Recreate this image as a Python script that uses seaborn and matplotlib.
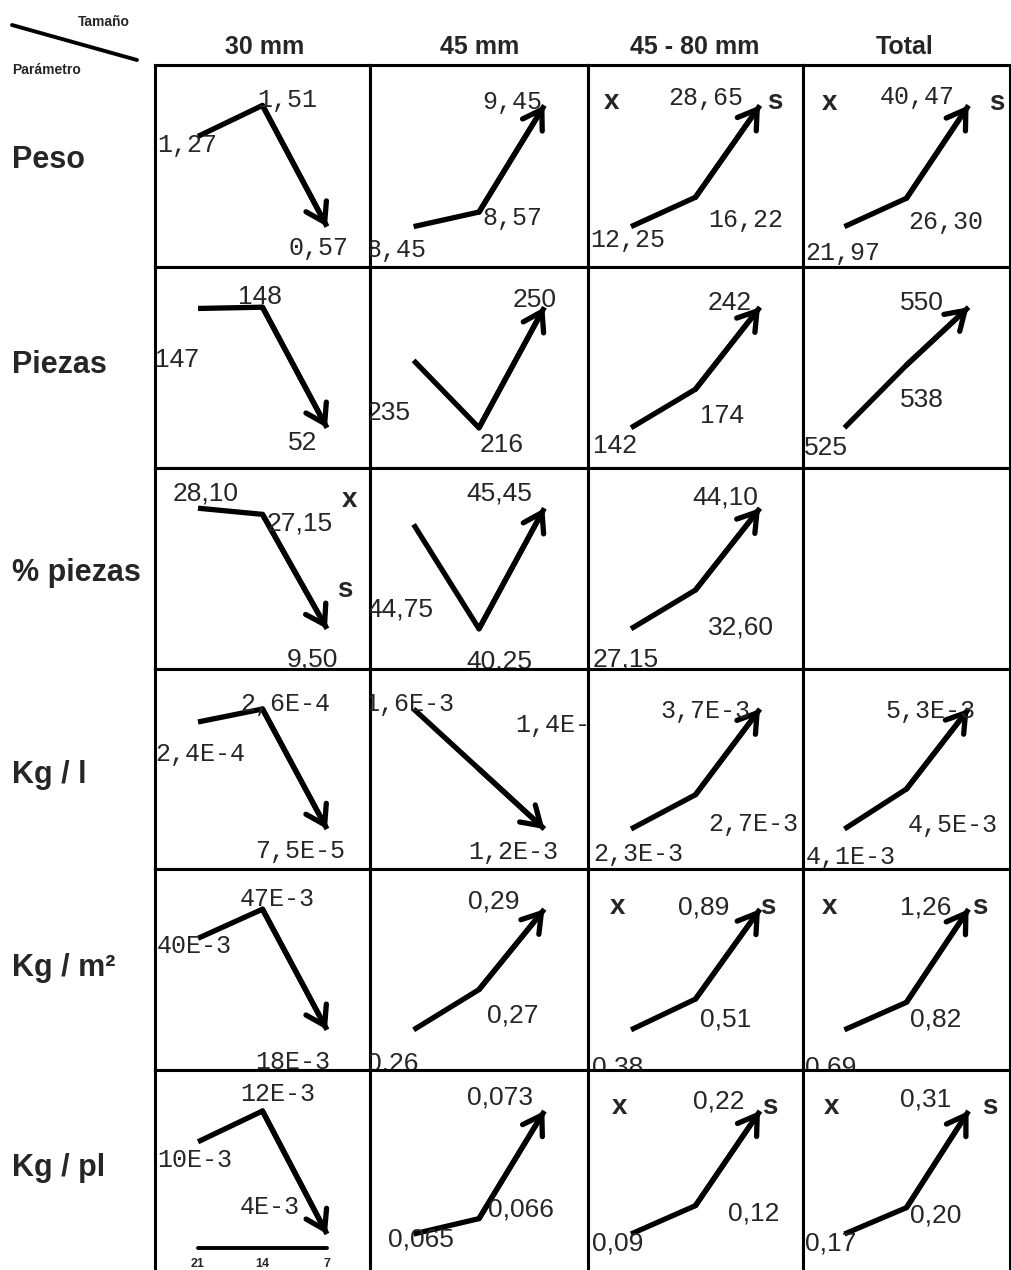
import matplotlib
matplotlib.use("Agg")
import matplotlib.pyplot as plt
from matplotlib.lines import Line2D
import pandas as pd
import seaborn as sns

sns.set_style("white")
plt.rcParams['font.family'] = ['Liberation Sans', 'DejaVu Sans']

tamanos = ["30 mm", "45 mm", "45 - 80 mm", "Total"]
parametros = ["Peso", "Piezas", "% piezas", "Kg / l", "Kg / m²", "Kg / pl"]
dias = [21, 14, 7]

# valores (3 fechas) por parametro y tamaño; None = celda vacia
peso = [[1.27, 1.51, 0.57], [8.45, 8.57, 9.45], [12.25, 16.22, 28.65], [21.97, 26.30, 40.47]]
piezas = [[147, 148, 52], [235, 216, 250], [142, 174, 242], [525, 538, 550]]
pct_piezas = [[28.10, 27.15, 9.50], [44.75, 40.25, 45.45], [27.15, 32.60, 44.10], None]
kg_l = [[2.4e-4, 2.6e-4, 7.5e-5], [1.6e-3, 1.4e-3, 1.2e-3], [2.3e-3, 2.7e-3, 3.7e-3], [4.1e-3, 4.5e-3, 5.3e-3]]
kg_m2 = [[40e-3, 47e-3, 18e-3], [0.26, 0.27, 0.29], [0.38, 0.51, 0.89], [0.69, 0.82, 1.26]]
kg_pl = [[10e-3, 12e-3, 4e-3], [0.065, 0.066, 0.073], [0.09, 0.12, 0.22], [0.17, 0.20, 0.31]]

# textos tal como aparecen impresos
peso_txt = [["1,27", "1,51", "0,57"], ["8,45", "8,57", "9,45"], ["12,25", "16,22", "28,65"], ["21,97", "26,30", "40,47"]]
piezas_txt = [["147", "148", "52"], ["235", "216", "250"], ["142", "174", "242"], ["525", "538", "550"]]
pct_txt = [["28,10", "27,15", "9,50"], ["44,75", "40,25", "45,45"], ["27,15", "32,60", "44,10"], None]
kg_l_txt = [["2,4E-4", "2,6E-4", "7,5E-5"], ["1,6E-3", "1,4E-3", "1,2E-3"], ["2,3E-3", "2,7E-3", "3,7E-3"], ["4,1E-3", "4,5E-3", "5,3E-3"]]
kg_m2_txt = [["40E-3", "47E-3", "18E-3"], ["0,26", "0,27", "0,29"], ["0,38", "0,51", "0,89"], ["0,69", "0,82", "1,26"]]
kg_pl_txt = [["10E-3", "12E-3", "4E-3"], ["0,065", "0,066", "0,073"], ["0,09", "0,12", "0,22"], ["0,17", "0,20", "0,31"]]

valores = [peso, piezas, pct_piezas, kg_l, kg_m2, kg_pl]
textos = [peso_txt, piezas_txt, pct_txt, kg_l_txt, kg_m2_txt, kg_pl_txt]

# celdas con las marcas x / s
marcas = [(0, 2), (0, 3), (2, 0), (4, 2), (4, 3), (5, 2), (5, 3)]

# ---- layout (pixeles) ----
W, H = 1012, 1270
col_edges = [155, 370, 588, 803, 1010]
row_edges = [65, 267, 468, 669, 869, 1070, 1275]

# posicion de cada etiqueta dentro de la celda (dx, dy desde esquina sup. izq.)
pos_txt = [
    [[(2, 80), (102, 35), (133, 183)], [(-4, 185), (112, 153), (112, 37)],
     [(2, 175), (120, 155), (80, 33)], [(2, 188), (105, 157), (77, 32)]],
    [[(0, 93), (83, 30), (133, 176)], [(-3, 146), (110, 178), (143, 33)],
     [(5, 179), (112, 149), (120, 36)], [(1, 181), (97, 133), (97, 36)]],
    [[(18, 25), (112, 55), (132, 192)], [(-3, 142), (96, 193), (96, 25)],
     [(5, 192), (120, 160), (104, 29)], None],
    [[(0, 85), (85, 35), (100, 182)], [(-6, 35), (145, 56), (98, 183)],
     [(5, 185), (120, 155), (72, 42)], [(3, 188), (105, 156), (82, 42)]],
    [[(2, 77), (85, 30), (100, 193)], [(-3, 195), (117, 147), (98, 33)],
     [(4, 198), (112, 150), (90, 38)], [(2, 198), (107, 150), (97, 38)]],
    [[(2, 90), (85, 24), (85, 137)], [(18, 170), (118, 140), (97, 27)],
     [(4, 174), (140, 143), (105, 32)], [(2, 174), (107, 145), (97, 30)]],
]
pos_marcas = {
    (0, 2): [(24, 37), (187, 37)], (0, 3): [(27, 38), (194, 38)],
    (2, 0): [(195, 32), (190, 122)],
    (4, 2): [(30, 38), (180, 38)], (4, 3): [(27, 38), (177, 38)],
    (5, 2): [(32, 37), (182, 37)], (5, 3): [(29, 37), (187, 37)],
}
mono_cells = {(0, c) for c in range(4)} | {(3, c) for c in range(4)} | {(4, 0), (5, 0)}

MONO = ['Liberation Mono', 'DejaVu Sans Mono']
SANS = ['Liberation Sans', 'DejaVu Sans']
HEAD = ['Liberation Sans Narrow', 'Liberation Sans', 'DejaVu Sans']

fig = plt.figure(figsize=(W / 100, H / 100), dpi=100)


def fx(x):
    return x / W


def fy(y):
    return 1 - y / H


for r in range(len(parametros)):
    for c in range(len(tamanos)):
        x0, x1 = col_edges[c], col_edges[c + 1]
        y0, y1 = row_edges[r], row_edges[r + 1]
        cw, ch = x1 - x0, y1 - y0
        ax = fig.add_axes([fx(x0), fy(y1), cw / W, ch / H])
        ax.set_xticks([])
        ax.set_yticks([])
        for sp in ax.spines.values():
            sp.set_color('black')
            sp.set_linewidth(2.2)

        vals = valores[r][c]
        ax.set_xlim(25.67, 2.33)
        if vals is None:
            ax.set_ylim(0, 1)
            continue

        df = pd.DataFrame({'dia': dias, 'valor': vals})
        lo, hi = df['valor'].min(), df['valor'].max()
        tot = (hi - lo) / 0.6
        ax.set_ylim(lo - 0.2 * tot, hi + 0.2 * tot)

        sns.lineplot(data=df, x='dia', y='valor', ax=ax, sort=False,
                     color='black', lw=3.8, solid_capstyle='butt')
        ax.annotate('', xy=(dias[2], vals[2]), xytext=(dias[1], vals[1]),
                    arrowprops=dict(arrowstyle='->,head_length=0.5,head_width=0.32',
                                    lw=3.8, color='black', shrinkA=0, shrinkB=0,
                                    mutation_scale=26))
        ax.set_xlabel('')
        ax.set_ylabel('')

        if (r, c) in mono_cells:
            fam, fs = MONO, 18
        else:
            fam, fs = SANS, 19
        for txt, (dx, dy) in zip(textos[r][c], pos_txt[r][c]):
            ax.text(dx / cw, 1 - dy / ch, txt, transform=ax.transAxes,
                    ha='left', va='center', fontsize=fs, family=fam, clip_on=True)

        if (r, c) in pos_marcas:
            for lab, (dx, dy) in zip(['x', 's'], pos_marcas[(r, c)]):
                ax.text(dx / cw, 1 - dy / ch, lab, transform=ax.transAxes,
                        ha='center', va='center', fontsize=20, fontweight='bold',
                        family=SANS)

        # eje de dias en la primera celda de la ultima fila
        if (r, c) == (5, 0):
            tr = ax.get_xaxis_transform()
            ax.plot([dias[0], dias[-1]], [0.13, 0.13], transform=tr,
                    color='black', lw=2.8)
            for d in dias:
                ax.text(d, 0.055, str(d), transform=tr, ha='center', va='center',
                        fontsize=9, fontweight='bold', family=SANS)

# encabezados
head_cx = [265, 480, 695, 905]
for t, cx in zip(tamanos, head_cx):
    fig.text(fx(cx), fy(47), t, ha='center', va='center', fontsize=18,
             fontweight='bold', family=HEAD)

row_cy = [160, 365, 573, 775, 968, 1168]
for t, cy in zip(parametros, row_cy):
    fig.text(fx(12), fy(cy), t, ha='left', va='center', fontsize=22,
             fontweight='bold', family=SANS)

fig.text(fx(78), fy(22), "Tamaño", ha='left', va='center', fontsize=10,
         fontweight='bold', family=SANS)
fig.text(fx(12), fy(70), "Parámetro", ha='left', va='center', fontsize=10,
         fontweight='bold', family=SANS)
fig.add_artist(Line2D([fx(12), fx(137)], [fy(25), fy(60)], lw=2.8,
                      color='black', transform=fig.transFigure))

plt.savefig("out.png", dpi=100)
